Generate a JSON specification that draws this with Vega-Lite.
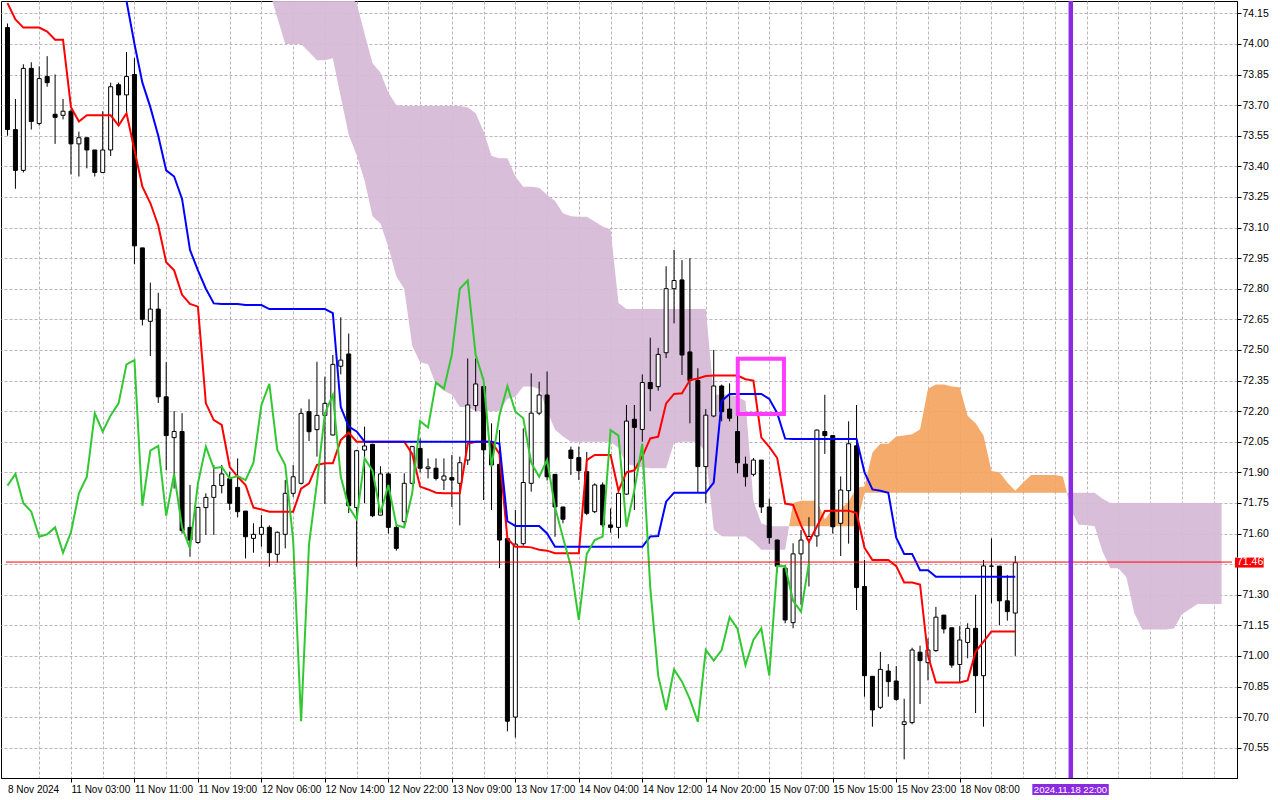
{
  "$schema": "https://vega.github.io/schema/vega-lite/v6.json",
  "width": 1236,
  "height": 777,
  "autosize": {"type": "none"},
  "padding": {"left": 1, "top": 1, "right": 43, "bottom": 22},
  "background": "white",
  "config": {
    "view": {"stroke": "black", "strokeWidth": 1},
    "axis": {
      "labelFont": "Liberation Sans",
      "labelColor": "black",
      "tickColor": "black",
      "domainColor": "black",
      "gridColor": "#bdb3bd",
      "gridDash": [3, 2],
      "gridWidth": 1,
      "labelOverlap": false,
      "labelBound": false
    }
  },
  "datasets": {
    "bars": [
      {"i":0,"o":74.08,"h":74.1,"l":73.55,"c":73.58,"t":74.2,"k":null,"ck":71.835},
      {"i":1,"o":73.58,"h":73.73,"l":73.29,"c":73.38,"t":74.12,"k":null,"ck":71.892},
      {"i":2,"o":73.38,"h":73.9,"l":73.37,"c":73.88,"t":74.08,"k":null,"ck":71.748},
      {"i":3,"o":73.88,"h":73.91,"l":73.58,"c":73.62,"t":74.08,"k":null,"ck":71.707},
      {"i":4,"o":73.61,"h":73.89,"l":73.6,"c":73.83,"t":74.08,"k":null,"ck":71.584},
      {"i":5,"o":73.84,"h":73.94,"l":73.79,"c":73.81,"t":74.06,"k":null,"ck":71.596},
      {"i":6,"o":73.655,"h":73.85,"l":73.51,"c":73.64,"t":74.02,"k":null,"ck":71.63},
      {"i":7,"o":73.65,"h":73.73,"l":73.63,"c":73.67,"t":74.02,"k":null,"ck":71.506},
      {"i":8,"o":73.67,"h":73.68,"l":73.36,"c":73.51,"t":73.69,"k":null,"ck":71.606},
      {"i":9,"o":73.51,"h":73.57,"l":73.35,"c":73.54,"t":73.62,"k":null,"ck":71.797},
      {"i":10,"o":73.54,"h":73.54,"l":73.39,"c":73.48,"t":73.65,"k":null,"ck":71.878},
      {"i":11,"o":73.48,"h":73.48,"l":73.35,"c":73.37,"t":73.65,"k":null,"ck":72.189},
      {"i":12,"o":73.37,"h":73.67,"l":73.37,"c":73.48,"t":73.65,"k":74.5,"ck":72.099},
      {"i":13,"o":73.48,"h":73.81,"l":73.45,"c":73.79,"t":73.65,"k":74.42,"ck":72.179},
      {"i":14,"o":73.8,"h":73.81,"l":73.61,"c":73.75,"t":73.6,"k":74.32,"ck":72.238},
      {"i":15,"o":73.75,"h":73.96,"l":73.66,"c":73.84,"t":73.66,"k":74.21,"ck":72.429},
      {"i":16,"o":73.85,"h":73.93,"l":72.92,"c":73.01,"t":73.48,"k":74.0,"ck":72.45},
      {"i":17,"o":73.0,"h":73.0,"l":72.62,"c":72.65,"t":73.3,"k":73.81,"ck":71.736},
      {"i":18,"o":72.64,"h":72.83,"l":72.47,"c":72.7,"t":73.22,"k":73.69,"ck":72.006},
      {"i":19,"o":72.7,"h":72.78,"l":72.24,"c":72.27,"t":73.11,"k":73.55,"ck":72.029},
      {"i":20,"o":72.27,"h":72.44,"l":71.91,"c":72.08,"t":72.93,"k":73.38,"ck":71.687},
      {"i":21,"o":72.07,"h":72.2,"l":71.82,"c":72.1,"t":72.89,"k":73.35,"ck":71.892},
      {"i":22,"o":72.1,"h":72.19,"l":71.6,"c":71.614,"t":72.77,"k":73.24,"ck":71.63},
      {"i":23,"o":71.63,"h":71.838,"l":71.486,"c":71.568,"t":72.725,"k":72.99,"ck":71.527},
      {"i":24,"o":71.556,"h":71.73,"l":71.55,"c":71.728,"t":72.712,"k":72.89,"ck":71.846},
      {"i":25,"o":71.727,"h":71.797,"l":71.593,"c":71.777,"t":72.238,"k":72.8,"ck":72.026},
      {"i":26,"o":71.777,"h":71.936,"l":71.593,"c":71.835,"t":72.156,"k":72.728,"ck":71.92},
      {"i":27,"o":71.835,"h":71.936,"l":71.797,"c":71.892,"t":72.132,"k":72.725,"ck":71.926},
      {"i":28,"o":71.869,"h":71.903,"l":71.715,"c":71.748,"t":71.927,"k":72.725,"ck":71.87},
      {"i":29,"o":71.826,"h":71.968,"l":71.679,"c":71.707,"t":71.878,"k":72.725,"ck":71.882},
      {"i":30,"o":71.71,"h":71.71,"l":71.478,"c":71.584,"t":71.838,"k":72.72,"ck":71.862},
      {"i":31,"o":71.576,"h":71.65,"l":71.506,"c":71.596,"t":71.727,"k":72.72,"ck":71.947},
      {"i":32,"o":71.596,"h":71.69,"l":71.535,"c":71.63,"t":71.718,"k":72.72,"ck":72.23},
      {"i":33,"o":71.63,"h":71.64,"l":71.437,"c":71.506,"t":71.707,"k":72.7,"ck":72.333},
      {"i":34,"o":71.498,"h":71.61,"l":71.457,"c":71.606,"t":71.707,"k":72.7,"ck":72.01},
      {"i":35,"o":71.596,"h":71.862,"l":71.527,"c":71.797,"t":71.707,"k":72.7,"ck":71.936},
      {"i":36,"o":71.797,"h":71.936,"l":71.78,"c":71.878,"t":71.707,"k":72.7,"ck":71.568},
      {"i":37,"o":71.846,"h":72.213,"l":71.84,"c":72.189,"t":71.82,"k":72.7,"ck":70.68},
      {"i":38,"o":72.197,"h":72.258,"l":72.053,"c":72.099,"t":71.846,"k":72.7,"ck":71.548},
      {"i":39,"o":72.109,"h":72.442,"l":71.977,"c":72.179,"t":71.936,"k":72.7,"ck":71.85},
      {"i":40,"o":72.179,"h":72.369,"l":71.745,"c":72.238,"t":71.944,"k":72.7,"ck":72.19},
      {"i":41,"o":72.083,"h":72.475,"l":72.08,"c":72.429,"t":71.944,"k":72.68,"ck":72.279},
      {"i":42,"o":72.42,"h":72.66,"l":72.38,"c":72.45,"t":72.058,"k":72.22,"ck":71.878},
      {"i":43,"o":72.48,"h":72.58,"l":71.7,"c":71.736,"t":72.094,"k":72.124,"ck":71.73},
      {"i":44,"o":71.727,"h":72.01,"l":71.437,"c":72.006,"t":72.05,"k":72.1,"ck":71.67},
      {"i":45,"o":72.009,"h":72.124,"l":71.748,"c":72.029,"t":72.05,"k":72.05,"ck":71.968},
      {"i":46,"o":72.037,"h":72.04,"l":71.68,"c":71.687,"t":72.05,"k":72.05,"ck":71.908},
      {"i":47,"o":71.69,"h":71.93,"l":71.69,"c":71.892,"t":72.05,"k":72.05,"ck":71.699},
      {"i":48,"o":71.892,"h":71.9,"l":71.6,"c":71.63,"t":72.05,"k":72.05,"ck":71.838},
      {"i":49,"o":71.63,"h":71.64,"l":71.516,"c":71.527,"t":72.05,"k":72.05,"ck":71.642},
      {"i":50,"o":71.658,"h":71.895,"l":71.63,"c":71.846,"t":72.05,"k":72.05,"ck":71.63},
      {"i":51,"o":71.846,"h":72.03,"l":71.84,"c":72.026,"t":71.99,"k":72.05,"ck":71.797},
      {"i":52,"o":72.017,"h":72.066,"l":71.9,"c":71.92,"t":71.83,"k":72.05,"ck":72.151},
      {"i":53,"o":71.918,"h":71.968,"l":71.87,"c":71.926,"t":71.816,"k":72.05,"ck":72.12},
      {"i":54,"o":71.92,"h":71.968,"l":71.86,"c":71.87,"t":71.8,"k":72.05,"ck":72.34},
      {"i":55,"o":71.862,"h":71.968,"l":71.813,"c":71.882,"t":71.797,"k":72.05,"ck":72.31},
      {"i":56,"o":71.874,"h":71.985,"l":71.73,"c":71.862,"t":71.797,"k":72.05,"ck":72.478},
      {"i":57,"o":71.846,"h":71.977,"l":71.64,"c":71.947,"t":71.797,"k":72.05,"ck":72.8},
      {"i":58,"o":71.96,"h":72.458,"l":71.936,"c":72.23,"t":72.04,"k":72.05,"ck":72.84},
      {"i":59,"o":72.227,"h":72.458,"l":72.2,"c":72.333,"t":72.05,"k":72.05,"ck":72.475},
      {"i":60,"o":72.32,"h":72.33,"l":71.764,"c":72.01,"t":72.05,"k":72.05,"ck":72.35},
      {"i":61,"o":72.042,"h":72.14,"l":71.715,"c":71.936,"t":72.05,"k":72.05,"ck":71.928},
      {"i":62,"o":71.939,"h":72.107,"l":71.43,"c":71.568,"t":71.99,"k":72.04,"ck":72.18},
      {"i":63,"o":71.575,"h":71.58,"l":70.63,"c":70.68,"t":71.575,"k":71.66,"ck":72.323},
      {"i":64,"o":70.7,"h":71.715,"l":70.6,"c":71.548,"t":71.535,"k":71.637,"ck":72.197},
      {"i":65,"o":71.55,"h":72.115,"l":71.54,"c":71.85,"t":71.535,"k":71.637,"ck":72.165},
      {"i":66,"o":71.846,"h":72.385,"l":71.805,"c":72.19,"t":71.532,"k":71.637,"ck":71.947},
      {"i":67,"o":72.19,"h":72.344,"l":72.18,"c":72.279,"t":71.52,"k":71.637,"ck":71.878},
      {"i":68,"o":72.279,"h":72.394,"l":71.86,"c":71.878,"t":71.516,"k":71.6,"ck":71.96},
      {"i":69,"o":71.89,"h":71.89,"l":71.584,"c":71.73,"t":71.503,"k":71.535,"ck":71.73},
      {"i":70,"o":71.73,"h":71.73,"l":71.65,"c":71.67,"t":71.503,"k":71.535,"ck":71.58},
      {"i":71,"o":72.009,"h":72.026,"l":71.887,"c":71.968,"t":71.503,"k":71.535,"ck":71.44},
      {"i":72,"o":71.972,"h":72.026,"l":71.862,"c":71.908,"t":71.503,"k":71.535,"ck":71.176},
      {"i":73,"o":71.903,"h":72.0,"l":71.69,"c":71.699,"t":71.96,"k":71.535,"ck":71.5},
      {"i":74,"o":71.707,"h":71.846,"l":71.7,"c":71.838,"t":71.985,"k":71.535,"ck":71.568},
      {"i":75,"o":71.838,"h":71.85,"l":71.63,"c":71.642,"t":71.985,"k":71.535,"ck":71.585},
      {"i":76,"o":71.642,"h":71.723,"l":71.604,"c":71.63,"t":71.985,"k":71.535,"ck":72.107},
      {"i":77,"o":71.63,"h":71.8,"l":71.576,"c":71.797,"t":71.81,"k":71.535,"ck":72.08},
      {"i":78,"o":71.793,"h":72.23,"l":71.79,"c":72.151,"t":71.9,"k":71.535,"ck":71.633},
      {"i":79,"o":72.16,"h":72.23,"l":71.715,"c":72.12,"t":71.91,"k":71.535,"ck":71.813},
      {"i":80,"o":72.11,"h":72.38,"l":72.05,"c":72.34,"t":71.977,"k":71.535,"ck":72.04},
      {"i":81,"o":72.34,"h":72.56,"l":72.2,"c":72.31,"t":72.066,"k":71.585,"ck":71.335},
      {"i":82,"o":72.32,"h":72.51,"l":72.3,"c":72.478,"t":72.075,"k":71.588,"ck":70.903},
      {"i":83,"o":72.486,"h":72.91,"l":72.46,"c":72.8,"t":72.238,"k":71.756,"ck":70.735},
      {"i":84,"o":72.8,"h":72.99,"l":72.63,"c":72.84,"t":72.284,"k":71.8,"ck":70.934},
      {"i":85,"o":72.843,"h":72.94,"l":72.377,"c":72.475,"t":72.287,"k":71.8,"ck":70.874},
      {"i":86,"o":72.49,"h":72.95,"l":72.14,"c":72.35,"t":72.352,"k":71.8,"ck":70.787},
      {"i":87,"o":72.35,"h":72.41,"l":71.8,"c":71.928,"t":72.36,"k":71.8,"ck":70.677},
      {"i":88,"o":71.928,"h":72.21,"l":71.75,"c":72.18,"t":72.372,"k":71.8,"ck":71.029},
      {"i":89,"o":72.176,"h":72.5,"l":72.17,"c":72.323,"t":72.374,"k":71.85,"ck":70.977},
      {"i":90,"o":72.323,"h":72.33,"l":72.15,"c":72.197,"t":72.374,"k":72.25,"ck":71.029},
      {"i":91,"o":72.21,"h":72.336,"l":72.15,"c":72.165,"t":72.374,"k":72.284,"ck":71.19},
      {"i":92,"o":72.1,"h":72.19,"l":71.895,"c":71.947,"t":72.374,"k":72.284,"ck":71.132},
      {"i":93,"o":71.94,"h":71.977,"l":71.83,"c":71.878,"t":72.356,"k":72.284,"ck":70.955},
      {"i":94,"o":71.89,"h":71.97,"l":71.88,"c":71.96,"t":72.35,"k":72.284,"ck":71.078},
      {"i":95,"o":71.96,"h":71.96,"l":71.7,"c":71.73,"t":72.07,"k":72.284,"ck":71.135},
      {"i":96,"o":71.73,"h":71.77,"l":71.55,"c":71.58,"t":72.025,"k":72.26,"ck":70.903},
      {"i":97,"o":71.568,"h":71.57,"l":71.41,"c":71.44,"t":71.97,"k":72.19,"ck":71.441},
      {"i":98,"o":71.43,"h":71.445,"l":71.16,"c":71.176,"t":71.747,"k":72.065,"ck":71.44},
      {"i":99,"o":71.163,"h":71.552,"l":71.135,"c":71.5,"t":71.74,"k":72.063,"ck":71.27},
      {"i":100,"o":71.5,"h":71.617,"l":71.25,"c":71.568,"t":71.64,"k":72.063,"ck":71.217},
      {"i":101,"o":71.57,"h":71.68,"l":71.34,"c":71.585,"t":71.56,"k":72.063,"ck":71.457},
      {"i":102,"o":71.588,"h":72.11,"l":71.535,"c":72.107,"t":71.634,"k":72.063,"ck":null},
      {"i":103,"o":72.1,"h":72.28,"l":71.99,"c":72.08,"t":71.71,"k":72.063,"ck":null},
      {"i":104,"o":72.08,"h":72.08,"l":71.6,"c":71.633,"t":71.712,"k":72.063,"ck":null},
      {"i":105,"o":71.65,"h":71.88,"l":71.49,"c":71.813,"t":71.712,"k":72.063,"ck":null},
      {"i":106,"o":71.81,"h":72.15,"l":71.55,"c":72.04,"t":71.712,"k":72.063,"ck":null},
      {"i":107,"o":72.03,"h":72.23,"l":71.225,"c":71.335,"t":71.7,"k":72.063,"ck":null},
      {"i":108,"o":71.34,"h":71.47,"l":70.8,"c":70.903,"t":71.53,"k":71.9,"ck":null},
      {"i":109,"o":70.9,"h":70.9,"l":70.653,"c":70.735,"t":71.47,"k":71.816,"ck":null},
      {"i":110,"o":70.748,"h":71.02,"l":70.74,"c":70.934,"t":71.47,"k":71.81,"ck":null},
      {"i":111,"o":70.926,"h":70.96,"l":70.8,"c":70.874,"t":71.47,"k":71.8,"ck":null},
      {"i":112,"o":70.877,"h":70.95,"l":70.78,"c":70.787,"t":71.44,"k":71.58,"ck":null},
      {"i":113,"o":70.664,"h":70.79,"l":70.493,"c":70.677,"t":71.36,"k":71.5,"ck":null},
      {"i":114,"o":70.673,"h":71.04,"l":70.665,"c":71.029,"t":71.36,"k":71.5,"ck":null},
      {"i":115,"o":71.018,"h":71.05,"l":70.764,"c":70.977,"t":71.35,"k":71.42,"ck":null},
      {"i":116,"o":70.967,"h":71.086,"l":70.88,"c":71.029,"t":71.0,"k":71.42,"ck":null},
      {"i":117,"o":71.026,"h":71.24,"l":71.02,"c":71.19,"t":70.87,"k":71.388,"ck":null},
      {"i":118,"o":71.2,"h":71.2,"l":71.11,"c":71.132,"t":70.87,"k":71.388,"ck":null},
      {"i":119,"o":71.138,"h":71.138,"l":70.942,"c":70.955,"t":70.87,"k":71.388,"ck":null},
      {"i":120,"o":70.958,"h":71.146,"l":70.87,"c":71.078,"t":70.87,"k":71.388,"ck":null},
      {"i":121,"o":71.066,"h":71.16,"l":70.988,"c":71.135,"t":70.88,"k":71.388,"ck":null},
      {"i":122,"o":71.135,"h":71.3,"l":70.72,"c":70.903,"t":71.02,"k":71.388,"ck":null},
      {"i":123,"o":70.903,"h":71.47,"l":70.653,"c":71.441,"t":71.07,"k":71.388,"ck":null},
      {"i":124,"o":71.44,"h":71.576,"l":71.258,"c":71.44,"t":71.12,"k":71.388,"ck":null},
      {"i":125,"o":71.44,"h":71.44,"l":71.15,"c":71.27,"t":71.12,"k":71.388,"ck":null},
      {"i":126,"o":71.27,"h":71.396,"l":71.173,"c":71.217,"t":71.12,"k":71.388,"ck":null},
      {"i":127,"o":71.21,"h":71.49,"l":71.0,"c":71.457,"t":71.12,"k":71.388,"ck":null}
    ],
    "cloud": [
      {"i":30,"a":74.5,"b":74.8,"s":"p1"},{"i":31,"a":74.45,"b":74.8,"s":"p1"},{"i":32,"a":74.38,"b":74.8,"s":"p1"},
      {"i":33,"a":74.26,"b":74.7,"s":"p1"},{"i":34,"a":74.13,"b":74.65,"s":"p1"},{"i":35,"a":74.0,"b":74.6,"s":"p1"},
      {"i":36,"a":74.0,"b":74.55,"s":"p1"},{"i":37,"a":74.0,"b":74.5,"s":"p1"},{"i":38,"a":73.96,"b":74.45,"s":"p1"},
      {"i":39,"a":73.92,"b":74.4,"s":"p1"},{"i":40,"a":73.92,"b":74.35,"s":"p1"},{"i":41,"a":73.93,"b":74.3,"s":"p1"},
      {"i":42,"a":73.74,"b":74.27,"s":"p1"},{"i":43,"a":73.555,"b":74.24,"s":"p1"},{"i":44,"a":73.455,"b":74.2,"s":"p1"},
      {"i":45,"a":73.33,"b":74.05,"s":"p1"},{"i":46,"a":73.155,"b":73.905,"s":"p1"},{"i":47,"a":73.12,"b":73.86,"s":"p1"},
      {"i":48,"a":73.005,"b":73.76,"s":"p1"},{"i":49,"a":72.86,"b":73.7,"s":"p1"},{"i":50,"a":72.8,"b":73.695,"s":"p1"},
      {"i":51,"a":72.52,"b":73.695,"s":"p1"},{"i":52,"a":72.44,"b":73.695,"s":"p1"},{"i":53,"a":72.43,"b":73.695,"s":"p1"},
      {"i":54,"a":72.33,"b":73.695,"s":"p1"},{"i":55,"a":72.3,"b":73.695,"s":"p1"},{"i":56,"a":72.28,"b":73.695,"s":"p1"},
      {"i":57,"a":72.22,"b":73.695,"s":"p1"},{"i":58,"a":72.22,"b":73.69,"s":"p1"},{"i":59,"a":72.2,"b":73.66,"s":"p1"},
      {"i":60,"a":72.2,"b":73.57,"s":"p1"},{"i":61,"a":72.2,"b":73.45,"s":"p1"},{"i":62,"a":72.2,"b":73.44,"s":"p1"},
      {"i":63,"a":72.26,"b":73.44,"s":"p1"},{"i":64,"a":72.27,"b":73.35,"s":"p1"},{"i":65,"a":72.32,"b":73.3,"s":"p1"},
      {"i":66,"a":72.32,"b":73.3,"s":"p1"},{"i":67,"a":72.31,"b":73.295,"s":"p1"},{"i":68,"a":72.2,"b":73.26,"s":"p1"},
      {"i":69,"a":72.11,"b":73.23,"s":"p1"},{"i":70,"a":72.075,"b":73.17,"s":"p1"},{"i":71,"a":72.05,"b":73.155,"s":"p1"},
      {"i":72,"a":72.05,"b":73.153,"s":"p1"},{"i":73,"a":72.05,"b":73.153,"s":"p1"},{"i":74,"a":72.05,"b":73.13,"s":"p1"},
      {"i":75,"a":72.05,"b":73.105,"s":"p1"},{"i":76,"a":72.05,"b":73.09,"s":"p1"},{"i":77,"a":72.02,"b":72.73,"s":"p1"},
      {"i":78,"a":71.94,"b":72.7,"s":"p1"},{"i":79,"a":71.933,"b":72.7,"s":"p1"},{"i":80,"a":71.925,"b":72.7,"s":"p1"},
      {"i":81,"a":71.92,"b":72.7,"s":"p1"},{"i":82,"a":71.92,"b":72.7,"s":"p1"},{"i":83,"a":71.92,"b":72.7,"s":"p1"},
      {"i":84,"a":72.045,"b":72.7,"s":"p1"},{"i":85,"a":72.05,"b":72.7,"s":"p1"},{"i":86,"a":72.05,"b":72.7,"s":"p1"},
      {"i":87,"a":72.05,"b":72.7,"s":"p1"},{"i":88,"a":71.995,"b":72.7,"s":"p1"},{"i":89,"a":71.62,"b":72.28,"s":"p1"},
      {"i":90,"a":71.586,"b":72.28,"s":"p1"},{"i":91,"a":71.585,"b":72.28,"s":"p1"},{"i":92,"a":71.585,"b":72.27,"s":"p1"},
      {"i":93,"a":71.585,"b":72.25,"s":"p1"},{"i":94,"a":71.558,"b":71.76,"s":"p1"},{"i":95,"a":71.52,"b":71.65,"s":"p1"},
      {"i":96,"a":71.52,"b":71.635,"s":"p1"},{"i":97,"a":71.52,"b":71.635,"s":"p1"},{"i":98,"a":71.52,"b":71.635,"s":"p1"},
      {"i":98.5,"a":71.635,"b":71.635,"s":"p1"},
      {"i":98.5,"a":71.635,"b":71.635,"s":"o"},{"i":99,"a":71.75,"b":71.635,"s":"o"},{"i":100,"a":71.76,"b":71.635,"s":"o"},
      {"i":101,"a":71.76,"b":71.635,"s":"o"},{"i":102,"a":71.76,"b":71.635,"s":"o"},{"i":103,"a":71.67,"b":71.635,"s":"o"},
      {"i":104,"a":71.72,"b":71.635,"s":"o"},{"i":105,"a":71.72,"b":71.635,"s":"o"},{"i":106,"a":71.756,"b":71.635,"s":"o"},
      {"i":107,"a":71.826,"b":71.635,"s":"o"},{"i":108,"a":71.83,"b":71.8,"s":"o"},{"i":109,"a":71.997,"b":71.8,"s":"o"},
      {"i":110,"a":72.04,"b":71.8,"s":"o"},{"i":111,"a":72.04,"b":71.8,"s":"o"},{"i":112,"a":72.076,"b":71.8,"s":"o"},
      {"i":113,"a":72.08,"b":71.8,"s":"o"},{"i":114,"a":72.086,"b":71.8,"s":"o"},{"i":115,"a":72.11,"b":71.8,"s":"o"},
      {"i":116,"a":72.31,"b":71.8,"s":"o"},{"i":117,"a":72.33,"b":71.8,"s":"o"},{"i":118,"a":72.33,"b":71.8,"s":"o"},
      {"i":119,"a":72.32,"b":71.8,"s":"o"},{"i":120,"a":72.317,"b":71.8,"s":"o"},{"i":121,"a":72.177,"b":71.8,"s":"o"},
      {"i":122,"a":72.14,"b":71.8,"s":"o"},{"i":123,"a":72.08,"b":71.8,"s":"o"},{"i":124,"a":71.906,"b":71.8,"s":"o"},
      {"i":125,"a":71.9,"b":71.8,"s":"o"},{"i":126,"a":71.85,"b":71.8,"s":"o"},{"i":127,"a":71.81,"b":71.8,"s":"o"},
      {"i":128,"a":71.85,"b":71.8,"s":"o"},{"i":129,"a":71.887,"b":71.8,"s":"o"},{"i":130,"a":71.887,"b":71.8,"s":"o"},
      {"i":131,"a":71.887,"b":71.8,"s":"o"},{"i":132,"a":71.887,"b":71.8,"s":"o"},{"i":133,"a":71.88,"b":71.8,"s":"o"},
      {"i":133.5,"a":71.8,"b":71.8,"s":"o"},
      {"i":133.5,"a":71.8,"b":71.8,"s":"p2"},{"i":134,"a":71.715,"b":71.8,"s":"p2"},{"i":135,"a":71.643,"b":71.8,"s":"p2"},
      {"i":136,"a":71.64,"b":71.8,"s":"p2"},{"i":137,"a":71.635,"b":71.8,"s":"p2"},{"i":138,"a":71.51,"b":71.77,"s":"p2"},
      {"i":139,"a":71.43,"b":71.75,"s":"p2"},{"i":140,"a":71.43,"b":71.75,"s":"p2"},{"i":141,"a":71.385,"b":71.75,"s":"p2"},
      {"i":142,"a":71.21,"b":71.75,"s":"p2"},{"i":143,"a":71.13,"b":71.75,"s":"p2"},{"i":144,"a":71.13,"b":71.75,"s":"p2"},
      {"i":145,"a":71.13,"b":71.75,"s":"p2"},{"i":146,"a":71.13,"b":71.75,"s":"p2"},{"i":147,"a":71.134,"b":71.75,"s":"p2"},
      {"i":148,"a":71.204,"b":71.75,"s":"p2"},{"i":149,"a":71.23,"b":71.75,"s":"p2"},{"i":150,"a":71.254,"b":71.75,"s":"p2"},
      {"i":151,"a":71.254,"b":71.75,"s":"p2"},{"i":152,"a":71.254,"b":71.75,"s":"p2"},{"i":153,"a":71.254,"b":71.75,"s":"p2"}
    ],
    "square": [{"i":92.03,"i2":97.85,"lo":72.186,"hi":72.457}],
    "priceTag": [{"i":154.69,"i2":158.3,"lo":71.433,"hi":71.482,"ti":154.94,"y":71.458,"txt":"71.46"}],
    "timeTag": [{"i":129.15,"i2":138.78,"lo":70.318,"hi":70.372,"ti":133.96,"y":70.345,"txt":"2024.11.18 22:00"}]
  },
  "encoding": {
    "x": {
      "field": "i", "type": "quantitative", "title": null,
      "scale": {"domain": [-0.1875, 154.3125], "zero": false, "nice": false},
      "axis": {
        "values": [0,4,8,12,16,20,24,28,32,36,40,44,48,52,56,60,64,68,72,76,80,84,88,92,96,100,104,108,112,116,120,124,128,132,136,140,144,148,152],
        "tickCount": 60,
        "labelExpr": "datum.value % 8 == 0 && datum.value <= 120 ? ['8 Nov 2024','11 Nov 03:00','11 Nov 11:00','11 Nov 19:00','12 Nov 06:00','12 Nov 14:00','12 Nov 22:00','13 Nov 09:00','13 Nov 17:00','14 Nov 04:00','14 Nov 12:00','14 Nov 20:00','15 Nov 07:00','15 Nov 15:00','15 Nov 23:00','18 Nov 08:00'][datum.value / 8] : ''",
        "labelAlign": "left",
        "labelBaseline": "top",
        "labelFontSize": 10,
        "labelPadding": 2,
        "labelOverlap": false,
        "labelFlush": false,
        "tickSize": 4,
        "tickOpacity": {"condition": {"test": "datum.value % 8 == 0 && datum.value > 0 && datum.value <= 120", "value": 1}, "value": 0},
        "gridOpacity": {"condition": {"test": "datum.value == 0", "value": 0}, "value": 1},
        "grid": true
      }
    }
  },
  "layer": [
    {
      "data": {"name": "cloud"},
      "mark": {"type": "area", "clip": true, "opacity": 0.92},
      "encoding": {
        "y": {
          "field": "a", "type": "quantitative", "stack": null, "title": null,
          "scale": {"domain": [70.4015, 74.2103], "zero": false, "nice": false},
          "axis": {
            "orient": "right",
            "values": [70.55,70.7,70.85,71,71.15,71.3,71.45,71.6,71.75,71.9,72.05,72.2,72.35,72.5,72.65,72.8,72.95,73.1,73.25,73.4,73.55,73.7,73.85,74,74.15],
            "tickCount": 40,
            "format": ".2f",
            "labelExpr": "datum.value == 71.45 ? '' : datum.label",
            "labelAlign": "left",
            "labelBaseline": "middle",
            "labelFontSize": 10.5,
            "labelPadding": 1,
            "labelOverlap": false,
            "tickSize": 4,
            "grid": true
          }
        },
        "y2": {"field": "b"},
        "color": {"field": "s", "type": "nominal", "scale": {"domain": ["p1", "o", "p2"], "range": ["#d6b9d6", "#f4a460", "#d6b9d6"]}, "legend": null}
      }
    },
    {
      "data": {"name": "bars"},
      "mark": {"type": "rule", "color": "black", "strokeWidth": 1, "clip": true},
      "encoding": {
        "y": {"field": "l", "type": "quantitative"},
        "y2": {"field": "h"}
      }
    },
    {
      "data": {"name": "bars"},
      "mark": {"type": "bar", "size": 4, "stroke": "black", "strokeWidth": 1, "clip": true},
      "encoding": {
        "y": {"field": "o", "type": "quantitative"},
        "y2": {"field": "c"},
        "fill": {"condition": {"test": "datum.c >= datum.o", "value": "white"}, "value": "black"}
      }
    },
    {
      "data": {"name": "bars"},
      "mark": {"type": "line", "color": "#ff0000", "strokeWidth": 2, "clip": true},
      "encoding": {
        "y": {"field": "t", "type": "quantitative"}
      }
    },
    {
      "data": {"name": "bars"},
      "mark": {"type": "line", "color": "#0000ff", "strokeWidth": 2, "clip": true},
      "encoding": {
        "y": {"field": "k", "type": "quantitative"}
      }
    },
    {
      "data": {"name": "bars"},
      "mark": {"type": "line", "color": "#32c832", "strokeWidth": 2, "clip": true},
      "encoding": {
        "y": {"field": "ck", "type": "quantitative"}
      }
    },
    {
      "data": {"values": [{"i": -0.1875, "p": 71.46}, {"i": 154.3125, "p": 71.46}]},
      "mark": {"type": "line", "color": "#ff0000", "strokeWidth": 1},
      "encoding": {
        "y": {"field": "p", "type": "quantitative"}
      }
    },
    {
      "data": {"values": [{"i": 134, "p": 70.4015}, {"i": 134, "p": 74.2103}]},
      "mark": {"type": "line", "color": "#8a2be2", "strokeWidth": 4.5},
      "encoding": {
        "y": {"field": "p", "type": "quantitative"}
      }
    },
    {
      "data": {"name": "square"},
      "mark": {"type": "rect", "filled": false, "color": "#ff3cff", "strokeWidth": 4},
      "encoding": {
        "x2": {"field": "i2"},
        "y": {"field": "lo", "type": "quantitative"},
        "y2": {"field": "hi"}
      }
    },
    {
      "data": {"name": "priceTag"},
      "mark": {"type": "rect", "color": "#ff0000"},
      "encoding": {
        "x2": {"field": "i2"},
        "y": {"field": "lo", "type": "quantitative"},
        "y2": {"field": "hi"}
      }
    },
    {
      "data": {"name": "priceTag"},
      "mark": {"type": "text", "color": "white", "font": "Liberation Sans", "fontSize": 10.5, "align": "left", "baseline": "middle"},
      "encoding": {
        "x": {"field": "ti", "type": "quantitative"},
        "y": {"field": "y", "type": "quantitative"},
        "text": {"field": "txt"}
      }
    },
    {
      "data": {"name": "timeTag"},
      "mark": {"type": "rect", "color": "#8a2be2"},
      "encoding": {
        "x2": {"field": "i2"},
        "y": {"field": "lo", "type": "quantitative"},
        "y2": {"field": "hi"}
      }
    },
    {
      "data": {"name": "timeTag"},
      "mark": {"type": "text", "color": "white", "font": "Liberation Sans", "fontSize": 9.5, "align": "center", "baseline": "middle"},
      "encoding": {
        "x": {"field": "ti", "type": "quantitative"},
        "y": {"field": "y", "type": "quantitative"},
        "text": {"field": "txt"}
      }
    }
  ]
}
